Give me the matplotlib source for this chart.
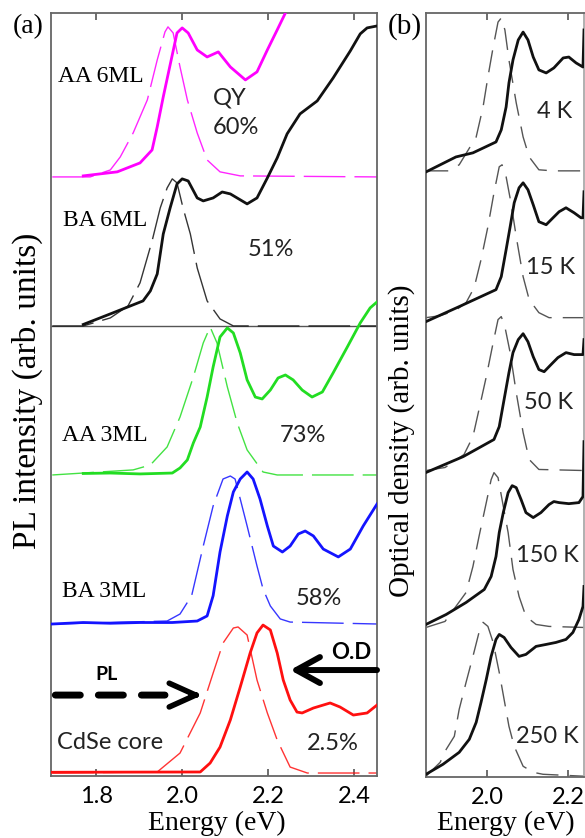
import matplotlib.pyplot as plt
import numpy as np

plt.rcParams['font.family'] = ['Lato', 'DejaVu Sans']
SERIF = 'Liberation Serif'

# ---- panel (a): PL (dashed) and optical density (solid), offset stacks ----
a_labels = ['CdSe core', 'BA 3ML', 'AA 3ML', 'BA 6ML', 'AA 6ML']
a_qy = ['2.5%', '58%', '73%', '51%', '60%']
a_colors = ['#ff1010', '#1414ff', '#22dd22', '#111111', '#ff00ff']
a_offsets = [0.0, 1.0, 2.0, 3.0, 4.0]

core_od_e = [1.698, 2.042, 2.065, 2.088, 2.112, 2.135, 2.158, 2.174, 2.188, 2.205, 2.221,
             2.235, 2.251, 2.267, 2.279, 2.305, 2.344, 2.367, 2.398, 2.430, 2.453]
core_od = [0.005, 0.007, 0.067, 0.174, 0.356, 0.577, 0.805, 0.940, 0.993, 0.960, 0.805,
           0.624, 0.490, 0.409, 0.403, 0.436, 0.470, 0.443, 0.389, 0.403, 0.456]
core_pl_e = [1.698, 1.942, 1.995, 2.042, 2.072, 2.095, 2.119, 2.130, 2.151, 2.174, 2.198,
             2.221, 2.251, 2.291, 2.453]
core_pl = [0, 0.007, 0.134, 0.403, 0.671, 0.872, 0.973, 0.980, 0.926, 0.624, 0.403,
           0.221, 0.040, 0, 0]

ba3_od_e = [1.698, 1.770, 1.833, 1.902, 1.977, 2.035, 2.058, 2.072, 2.088, 2.105, 2.119,
            2.135, 2.151, 2.165, 2.181, 2.198, 2.212, 2.233, 2.251, 2.270, 2.286, 2.305,
            2.328, 2.363, 2.391, 2.421, 2.453]
ba3_od = [0.0, 0.01, 0.005, 0.01, 0.01, 0.02, 0.054, 0.19, 0.483, 0.725, 0.886,
          0.973, 1.020, 0.973, 0.839, 0.658, 0.523, 0.483, 0.523, 0.604, 0.624, 0.591,
          0.503, 0.450, 0.503, 0.658, 0.805]
ba3_pl_e = [1.698, 1.965, 1.995, 2.022, 2.049, 2.072, 2.095, 2.112, 2.123, 2.135, 2.151,
            2.174, 2.188, 2.205, 2.228, 2.251, 2.453]
ba3_pl = [0, 0.02, 0.067, 0.19, 0.523, 0.792, 0.973, 0.993, 0.973, 0.839, 0.658,
          0.389, 0.235, 0.121, 0.034, 0.013, 0]

aa3_od_e = [1.770, 1.833, 1.902, 1.977, 1.995, 2.012, 2.026, 2.042, 2.058, 2.072, 2.088,
            2.105, 2.119, 2.135, 2.151, 2.170, 2.186, 2.205, 2.223, 2.240, 2.258, 2.279,
            2.302, 2.326, 2.351, 2.384, 2.414, 2.437, 2.453]
aa3_od = [0.01, 0.013, 0.007, 0.013, 0.047, 0.101, 0.215, 0.322, 0.523, 0.725, 0.926,
          0.987, 0.953, 0.819, 0.638, 0.523, 0.510, 0.570, 0.651, 0.671, 0.638, 0.570,
          0.523, 0.557, 0.685, 0.859, 1.020, 1.121, 1.161]
aa3_pl_e = [1.698, 1.886, 1.926, 1.965, 1.995, 2.026, 2.049, 2.065, 2.081, 2.105, 2.128,
            2.151, 2.188, 2.221, 2.453]
aa3_pl = [0, 0.034, 0.067, 0.188, 0.389, 0.658, 0.886, 0.993, 0.886, 0.591, 0.349,
          0.168, 0.020, 0, 0]

ba6_od_e = [1.770, 1.833, 1.909, 1.926, 1.942, 1.956, 1.972, 1.988, 2.000, 2.014, 2.035,
            2.049, 2.072, 2.093, 2.112, 2.151, 2.174, 2.198, 2.221, 2.244, 2.274, 2.314,
            2.351, 2.391, 2.414, 2.430, 2.453]
ba6_od = [0.01, 0.081, 0.168, 0.235, 0.349, 0.617, 0.792, 0.953, 0.987, 0.973, 0.859,
          0.839, 0.859, 0.899, 0.886, 0.819, 0.859, 0.993, 1.128, 1.289, 1.423, 1.510,
          1.664, 1.846, 1.960, 2.0, 2.013]
ba6_pl_e = [1.698, 1.770, 1.833, 1.874, 1.902, 1.930, 1.949, 1.965, 1.977, 1.988, 2.002,
            2.019, 2.035, 2.058, 2.088, 2.119, 2.453]
ba6_pl = [0, 0, 0.054, 0.134, 0.289, 0.570, 0.792, 0.926, 0.987, 0.960, 0.792,
          0.617, 0.389, 0.168, 0.047, 0, 0]

aa6_od_e = [1.770, 1.849, 1.902, 1.930, 1.942, 1.956, 1.972, 1.988, 2.000, 2.014, 2.035,
            2.058, 2.084, 2.112, 2.147, 2.174, 2.198, 2.221, 2.240, 2.256]
aa6_od = [0.007, 0.034, 0.094, 0.181, 0.336, 0.537, 0.752, 0.966, 1.0, 0.966, 0.852,
          0.805, 0.839, 0.738, 0.651, 0.705, 0.852, 0.987, 1.10, 1.25]
aa6_pl_e = [1.698, 1.786, 1.833, 1.856, 1.886, 1.919, 1.942, 1.960, 1.967, 1.979, 1.995,
            2.012, 2.035, 2.058, 2.088, 2.135, 2.453]
aa6_pl = [0, 0, 0.047, 0.134, 0.295, 0.517, 0.785, 0.973, 1.007, 0.966, 0.738,
          0.517, 0.295, 0.114, 0.034, 0.007, 0]

a_od = [(core_od_e, core_od), (ba3_od_e, ba3_od), (aa3_od_e, aa3_od),
        (ba6_od_e, ba6_od), (aa6_od_e, aa6_od)]
a_pl = [(core_pl_e, core_pl), (ba3_pl_e, ba3_pl), (aa3_pl_e, aa3_pl),
        (ba6_pl_e, ba6_pl), (aa6_pl_e, aa6_pl)]

# ---- panel (b): temperature series ----
b_labels = ['250 K', '150 K', '50 K', '15 K', '4 K']
b_offsets = [0.0, 0.983, 2.02, 3.03, 4.0]

k250_od_e = [1.849, 1.891, 1.931, 1.956, 1.973, 1.985, 1.998, 2.010, 2.022, 2.030, 2.042,
             2.059, 2.079, 2.096, 2.121, 2.146, 2.170, 2.195, 2.212, 2.227, 2.237, 2.2395]
k250_od = [0.013, 0.079, 0.158, 0.244, 0.356, 0.488, 0.640, 0.792, 0.904, 0.937, 0.917,
           0.851, 0.792, 0.805, 0.858, 0.871, 0.884, 0.904, 0.950, 1.036, 1.122, 1.254]
k250_pl_e = [1.849, 1.884, 1.899, 1.919, 1.931, 1.948, 1.965, 1.980, 1.990, 2.002, 2.015,
             2.030, 2.042, 2.054, 2.067, 2.089, 2.114, 2.138, 2.2395]
k250_pl = [0, 0.092, 0.178, 0.264, 0.442, 0.620, 0.792, 0.950, 1.017, 0.990, 0.884,
           0.686, 0.508, 0.330, 0.198, 0.066, 0.026, 0.013, 0]

k150_od_e = [1.849, 1.899, 1.948, 1.993, 2.010, 2.022, 2.030, 2.040, 2.052, 2.062, 2.072,
             2.084, 2.096, 2.114, 2.133, 2.153, 2.165, 2.178, 2.202, 2.227, 2.237, 2.2395]
k150_od = [0.020, 0.086, 0.165, 0.251, 0.337, 0.469, 0.627, 0.759, 0.891, 0.937, 0.924,
           0.845, 0.759, 0.726, 0.759, 0.812, 0.832, 0.825, 0.818, 0.825, 0.865, 1.228]
k150_pl_e = [1.849, 1.896, 1.948, 1.965, 1.980, 1.998, 2.010, 2.017, 2.027, 2.037, 2.052,
             2.064, 2.079, 2.096, 2.121, 2.153, 2.2395]
k150_pl = [0, 0.040, 0.231, 0.403, 0.601, 0.825, 0.977, 1.023, 0.990, 0.845, 0.627,
           0.383, 0.205, 0.073, 0.020, 0.007, 0]

k50_od_e = [1.849, 1.941, 2.017, 2.030, 2.042, 2.054, 2.064, 2.077, 2.089, 2.101, 2.114,
            2.128, 2.141, 2.158, 2.175, 2.195, 2.215, 2.237, 2.2395]
k50_od = [-0.013, 0.092, 0.205, 0.290, 0.469, 0.647, 0.779, 0.865, 0.904, 0.851, 0.752,
          0.667, 0.653, 0.700, 0.746, 0.779, 0.766, 0.766, 0.865]
k50_pl_e = [1.849, 1.896, 1.943, 1.965, 1.980, 1.998, 2.015, 2.027, 2.035, 2.044, 2.057,
            2.072, 2.089, 2.104, 2.128, 2.2395]
k50_pl = [0, 0.020, 0.106, 0.224, 0.403, 0.620, 0.845, 0.997, 1.017, 0.950, 0.779,
          0.515, 0.251, 0.073, 0.007, 0]

k15_od_e = [1.849, 1.931, 2.022, 2.035, 2.047, 2.057, 2.067, 2.079, 2.089, 2.101, 2.114,
            2.128, 2.146, 2.163, 2.178, 2.195, 2.215, 2.232, 2.237, 2.2395]
k15_od = [-0.026, 0.073, 0.185, 0.271, 0.449, 0.601, 0.759, 0.858, 0.891, 0.845, 0.746,
          0.634, 0.614, 0.660, 0.700, 0.726, 0.693, 0.660, 0.660, 0.832]
k15_pl_e = [1.849, 1.884, 1.921, 1.948, 1.968, 1.985, 2.002, 2.017, 2.030, 2.037, 2.047,
            2.059, 2.072, 2.089, 2.104, 2.128, 2.153, 2.2395]
k15_pl = [0, 0.013, 0.046, 0.099, 0.198, 0.383, 0.601, 0.825, 0.997, 1.01, 0.931,
          0.759, 0.535, 0.271, 0.119, 0.033, 0, 0]

k4_od_e = [1.849, 1.923, 1.965, 2.022, 2.035, 2.047, 2.054, 2.064, 2.077, 2.089, 2.101,
           2.114, 2.128, 2.146, 2.165, 2.188, 2.202, 2.220, 2.237, 2.2395]
k4_od = [-0.007, 0.092, 0.119, 0.191, 0.271, 0.422, 0.581, 0.733, 0.865, 0.917, 0.865,
         0.752, 0.667, 0.647, 0.680, 0.746, 0.752, 0.713, 0.686, 0.931]
k4_pl_e = [1.849, 1.904, 1.931, 1.973, 1.990, 2.002, 2.015, 2.027, 2.035, 2.044, 2.054,
           2.072, 2.089, 2.104, 2.128, 2.163, 2.2395]
k4_pl = [0, 0, 0.040, 0.224, 0.422, 0.620, 0.818, 0.983, 1.01, 0.931, 0.733,
         0.449, 0.224, 0.092, 0.007, 0, 0]

b_od = [(k250_od_e, k250_od), (k150_od_e, k150_od), (k50_od_e, k50_od),
        (k15_od_e, k15_od), (k4_od_e, k4_od)]
b_pl = [(k250_pl_e, k250_pl), (k150_pl_e, k150_pl), (k50_pl_e, k50_pl),
        (k15_pl_e, k15_pl), (k4_pl_e, k4_pl)]

xticks_a = [1.8, 2.0, 2.2, 2.4]
xticks_b = [2.0, 2.2]


def style_axes(ax, ticks):
    ax.set_xticks(ticks)
    ax.set_xticklabels([f'{t:.1f}' for t in ticks])
    ax.set_yticks([])
    ax.tick_params(axis='x', direction='in', top=True, length=5, width=1.2,
                   color='#555555', labelsize=17, pad=7)
    for s in ax.spines.values():
        s.set_color('#666666')
        s.set_linewidth(1.3)


fig = plt.figure(figsize=(5.85, 8.38), dpi=100)
W, H = 585.0, 838.0
ax1 = fig.add_axes([51 / W, 1 - 776 / H, 326 / W, 763 / H])
ax2 = fig.add_axes([426 / W, 1 - 777 / H, 158 / W, 764 / H])

# panel (a)
ax1.axhline(a_offsets[3], color='#555555', lw=1.0, zorder=1)
for i in range(5):
    e, v = a_pl[i]
    ax1.plot(e, np.array(v) + a_offsets[i], color=a_colors[i], lw=1.0,
             dashes=(30, 6.5), alpha=0.85, zorder=2)
    e, v = a_od[i]
    ax1.plot(e, np.array(v) + a_offsets[i], color=a_colors[i], lw=2.0,
             solid_joinstyle='round', zorder=3)
ax1.set_xlim(1.695, 2.453)
ax1.set_ylim(-0.02, 5.10)
style_axes(ax1, xticks_a)

lab_kw = dict(fontsize=17, family=SERIF, va='center', ha='left')
qy_kw = dict(fontsize=17, va='center', ha='left', color='#222222')
ax1.text(1.712, 4.671, a_labels[4], **lab_kw)
ax1.text(1.723, 3.705, a_labels[3], **lab_kw)
ax1.text(1.721, 2.262, a_labels[2], **lab_kw)
ax1.text(1.721, 1.215, a_labels[1], **lab_kw)
ax1.text(1.709, 0.208, a_labels[0], fontsize=17, va='center', ha='left', color='#222222')
ax1.text(2.072, 4.530, 'QY', **qy_kw)
ax1.text(2.072, 4.329, a_qy[4], **qy_kw)
ax1.text(2.153, 3.510, a_qy[3], **qy_kw)
ax1.text(2.228, 2.262, a_qy[2], **qy_kw)
ax1.text(2.263, 1.174, a_qy[1], **qy_kw)
ax1.text(2.291, 0.201, a_qy[0], **qy_kw)

# arrows marking which trace is PL and which is O.D
ax1.annotate('', xy=(1.96, 0.523), xytext=(1.705, 0.523), annotation_clip=False,
             arrowprops=dict(arrowstyle='-', lw=5, linestyle=(0, (3.6, 2.6)),
                             color='k', shrinkA=0, shrinkB=0))
ax1.annotate('', xy=(2.047, 0.523), xytext=(2.02, 0.523),
             arrowprops=dict(arrowstyle='->,head_length=1.0,head_width=0.45',
                             mutation_scale=19, lw=4, color='k', shrinkA=0, shrinkB=0))
ax1.annotate('', xy=(2.251, 0.691), xytext=(2.453, 0.691), annotation_clip=False,
             arrowprops=dict(arrowstyle='->,head_length=1.0,head_width=0.55',
                             mutation_scale=17, lw=4.3, color='k', shrinkA=0, shrinkB=0))
ax1.text(1.823, 0.658, 'PL', fontsize=14, fontweight='bold', ha='center', va='center')
ax1.text(2.393, 0.812, 'O.D', fontsize=16, fontweight='bold', ha='center', va='center')

# panel (b)
for i in range(5):
    e, v = b_pl[i]
    ax2.plot(e, np.array(v) + b_offsets[i], color='#555555', lw=1.0,
             dashes=(16, 8), zorder=2)
    e, v = b_od[i]
    ax2.plot(e, np.array(v) + b_offsets[i], color='#111111', lw=2.0,
             solid_joinstyle='round', zorder=3)
ax2.set_xlim(1.849, 2.2395)
ax2.set_ylim(-0.005, 5.043)
style_axes(ax2, xticks_b)
ax2.spines['right'].set_color('#aaaaaa')

t_pos = [(2.148, 0.264), (2.148, 1.459), (2.153, 2.469), (2.156, 3.360), (2.168, 4.389)]
for (x, y), lab in zip(t_pos, b_labels):
    ax2.text(x, y, lab, fontsize=17, ha='center', va='center', color='#222222')

# axis titles and panel letters
fig.text(27 / W, 1 - 391 / H, 'PL intensity (arb. units)', rotation=90,
         ha='center', va='center', fontsize=24, family=SERIF)
fig.text(402 / W, 1 - 441 / H, 'Optical density (arb. units)', rotation=90,
         ha='center', va='center', fontsize=21, family=SERIF)
fig.text(217 / W, 1 - 830 / H, 'Energy (eV)', ha='center', va='baseline',
         fontsize=20, family=SERIF)
fig.text(506 / W, 1 - 830 / H, 'Energy (eV)', ha='center', va='baseline',
         fontsize=20, family=SERIF)
fig.text(28 / W, 1 - 27 / H, '(a)', ha='center', va='center', fontsize=20, family=SERIF)
fig.text(405 / W, 1 - 27 / H, '(b)', ha='center', va='center', fontsize=21, family=SERIF)

fig.savefig('out.png', dpi=100)
